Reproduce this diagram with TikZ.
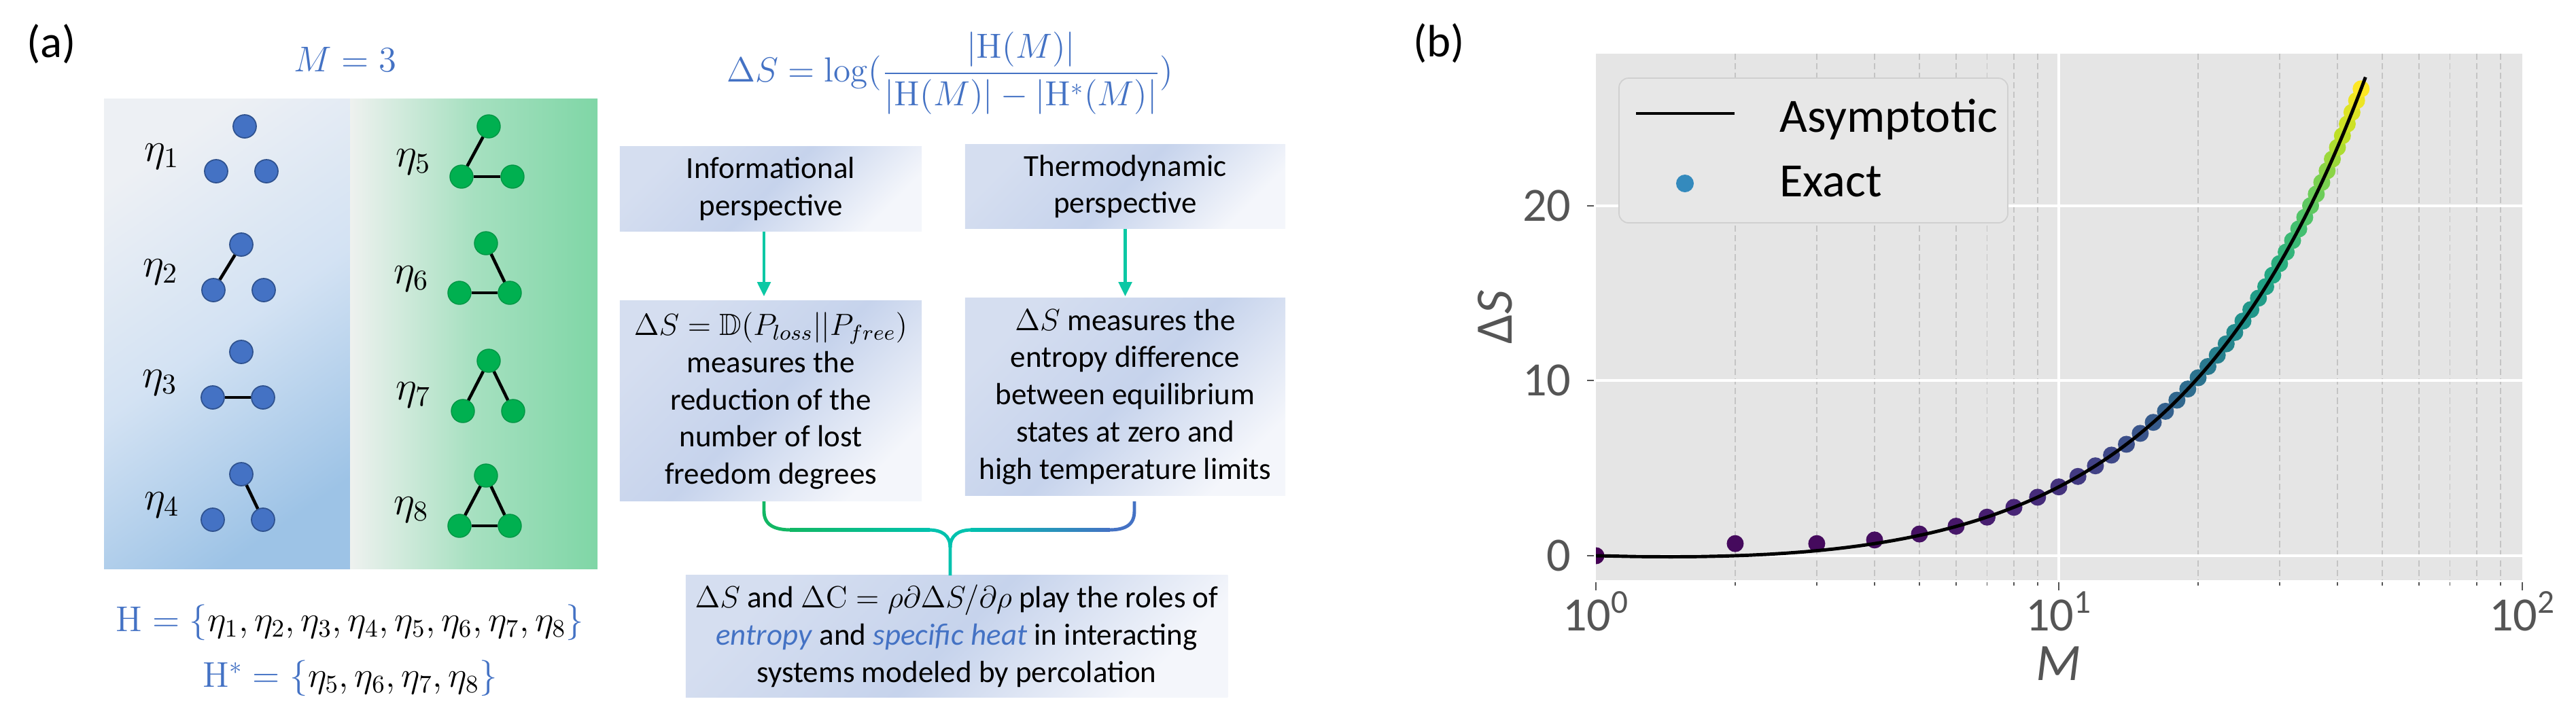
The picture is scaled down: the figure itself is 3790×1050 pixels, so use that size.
\RequirePackage{fix-cm}
\documentclass[tikz,border=0pt]{standalone}
\usepackage{amsmath,amssymb}
\usepackage[no-math]{fontspec}
\setmainfont{Carlito}
\usetikzlibrary{arrows.meta}
\definecolor{mblue}{HTML}{4472C4}
\definecolor{dblue}{HTML}{2F528F}
\definecolor{mgreen}{HTML}{00B050}
\definecolor{arrowc}{HTML}{0CC8A4}
\definecolor{axbg}{HTML}{E5E5E5}
\definecolor{tickc}{HTML}{555555}
\definecolor{gridd}{HTML}{C4C4C4}
\definecolor{legfill}{HTML}{E7E7E7}
\definecolor{legdraw}{HTML}{D0D0D0}
\definecolor{exactc}{HTML}{348ABD}
\definecolor{lpTop}{HTML}{EDF0F4}
\definecolor{lpMid}{HTML}{D3E2F3}
\definecolor{lpBot}{HTML}{9DC3E6}
\definecolor{rpL}{HTML}{EEF1EF}
\definecolor{rpM}{HTML}{A6E0C0}
\definecolor{rpR}{HTML}{7FD6A6}
\definecolor{boxA}{HTML}{D5DEF0}
\definecolor{boxM}{HTML}{C6D3EC}
\definecolor{boxB}{HTML}{F4F6FB}
\definecolor{bL}{HTML}{12B764}
\definecolor{bM}{HTML}{00C2AE}
\definecolor{bR}{HTML}{4472C4}
\definecolor{vir0}{HTML}{440154}
\definecolor{vir1}{HTML}{482475}
\definecolor{vir2}{HTML}{414487}
\definecolor{vir3}{HTML}{355F8D}
\definecolor{vir4}{HTML}{2A788E}
\definecolor{vir5}{HTML}{21918C}
\definecolor{vir6}{HTML}{22A884}
\definecolor{vir7}{HTML}{44BF70}
\definecolor{vir8}{HTML}{7AD151}
\definecolor{vir9}{HTML}{BDDF26}
\definecolor{vir10}{HTML}{FDE725}
\newcommand\boxfont{\fontsize{12.8}{15.6}\selectfont}
\newcommand\mathfnt{\fontsize{15}{18}\selectfont}
\newcommand\formfnt{\fontsize{14.6}{18}\selectfont}
\newcommand\etafnt{\fontsize{17}{20}\selectfont}
\newcommand\tickfont{\fontsize{20}{24}\selectfont}
\newcommand\labfont{\fontsize{22}{26}\selectfont}
\newcommand\panelfont{\fontsize{19}{22}\selectfont}
\newcommand\plotdot[2]{%
  \pgfmathsetmacro\vt{min(#2/26.69,1)*10}%
  \pgfmathtruncatemacro\vk{min(floor(\vt),9)}%
  \pgfmathtruncatemacro\vkn{\vk+1}%
  \pgfmathsetmacro\vp{100-(\vt-\vk)*100}%
  \colorlet{dc}{vir\vk!\vp!vir\vkn}%
  \fill[dc] ({2348+681*log10(#1)},{818-25.75*#2}) circle[radius=0.125cm];%
}
\begin{document}
\begin{tikzpicture}[x=0.01cm,y=-0.01cm,
  bdot/.style={circle,inner sep=0pt,minimum size=0.34cm,fill=mblue,draw=dblue,line width=0.5pt},
  gdot/.style={circle,inner sep=0pt,minimum size=0.34cm,fill=mgreen,draw=mgreen!85!black,line width=0.4pt},
  edge/.style={line width=1.3pt,black},
  eta/.style={font=\etafnt},
  pbox/.style={shading=axis,top color=boxA,bottom color=boxB,middle color=boxM,shading angle=45,
     inner sep=0pt,align=center,font=\boxfont,text=black},
  arr/.style={draw=arrowc,line width=1.2pt,-{Triangle[length=6pt,width=5.5pt]}},
  bw/.style={line width=1.4pt},
  mgrid/.style={gridd,line width=0.45pt,dash pattern=on 2.6pt off 1.4pt},
  wgrid/.style={white,line width=0.9pt},
  tk/.style={tickc,line width=0.5pt}]
\useasboundingbox (0,0) rectangle (3790,1050);

% ---------------- panel (a) ----------------
\node[font=\panelfont] (pa) at (76,65) {(a)};
\node[font=\mathfnt,text=mblue] (m3) at (508,87) {$M=3$};

\shade[top color=lpTop,bottom color=lpBot,middle color=lpMid,shading angle=35] (153,145) rectangle (515,837);
\shade[left color=rpL,right color=rpR,middle color=rpM] (515,145) rectangle (879,837);

% blue graphs
\node[eta] (l1) at (238,230) {$\eta_1$};
\node[bdot] (a1) at (360,186) {}; \node[bdot] (b1) at (318,252) {}; \node[bdot] (c1) at (392,252) {};
\node[eta] (l2) at (236,400) {$\eta_2$};
\node[bdot] (a2) at (355,360) {}; \node[bdot] (b2) at (314,427) {}; \node[bdot] (c2) at (388,427) {};
\draw[edge] (a2) -- (b2);
\node[eta] (l3) at (235,563) {$\eta_3$};
\node[bdot] (a3) at (355,518) {}; \node[bdot] (b3) at (313,585) {}; \node[bdot] (c3) at (387,585) {};
\draw[edge] (b3) -- (c3);
\node[eta] (l4) at (238,743) {$\eta_4$};
\node[bdot] (a4) at (355,698) {}; \node[bdot] (b4) at (313,765) {}; \node[bdot] (c4) at (387,765) {};
\draw[edge] (a4) -- (c4);
% green graphs
\node[eta] (l5) at (608,238) {$\eta_5$};
\node[gdot] (a5) at (719,186) {}; \node[gdot] (b5) at (679,260) {}; \node[gdot] (c5) at (754,260) {};
\draw[edge] (a5) -- (b5); \draw[edge] (b5) -- (c5);
\node[eta] (l6) at (605,410) {$\eta_6$};
\node[gdot] (a6) at (715,358) {}; \node[gdot] (b6) at (676,431) {}; \node[gdot] (c6) at (750,431) {};
\draw[edge] (a6) -- (c6); \draw[edge] (b6) -- (c6);
\node[eta] (l7) at (608,581) {$\eta_7$};
\node[gdot] (a7) at (719,531) {}; \node[gdot] (b7) at (681,605) {}; \node[gdot] (c7) at (755,605) {};
\draw[edge] (a7) -- (b7); \draw[edge] (a7) -- (c7);
\node[eta] (l8) at (605,750) {$\eta_8$};
\node[gdot] (a8) at (715,700) {}; \node[gdot] (b8) at (676,774) {}; \node[gdot] (c8) at (750,774) {};
\draw[edge] (a8) -- (b8); \draw[edge] (a8) -- (c8); \draw[edge] (b8) -- (c8);

\node[font=\mathfnt] (hset) at (515,916) {$\color{mblue}\mathrm{H}=\{\color{black}\eta_1,\eta_2,\eta_3,\eta_4,\eta_5,\eta_6,\eta_7,\eta_8\color{mblue}\}$};
\node[font=\mathfnt] (hstar) at (515,998) {$\color{mblue}\mathrm{H}^{*}=\{\color{black}\eta_5,\eta_6,\eta_7,\eta_8\color{mblue}\}$};

% ---------------- middle flow ----------------
\node[font=\formfnt,text=mblue] (form) at (1398,108)
  {$\Delta S=\log(\dfrac{|\mathrm{H}(M)|}{|\mathrm{H}(M)|-|\mathrm{H}^{*}(M)|})$};

\node[pbox,minimum width=4.44cm,minimum height=1.24cm] (info) at (1134,278) {Informational\\perspective};
\node[pbox,minimum width=4.71cm,minimum height=1.23cm] (thermo) at (1655.5,274.5) {Thermodynamic\\perspective};
\node[pbox,minimum width=4.44cm,minimum height=2.94cm] (lowL) at (1134,590)
  {$\Delta S=\mathbb{D}(P_{loss}||P_{free})$\\measures the\\reduction of the\\number of lost\\freedom degrees};
\node[pbox,minimum width=4.71cm,minimum height=2.90cm] (lowR) at (1655.5,584)
  {$\Delta S$ measures the\\entropy difference\\between equilibrium\\states at zero and\\high temperature limits};
\node[pbox,minimum width=7.97cm,minimum height=1.79cm] (bot) at (1407.5,936.5)
  {$\Delta S$ and $\Delta\mathrm{C}=\rho\partial\Delta S/\partial\rho$ play the roles of\\
   \textcolor{mblue}{\textit{entropy}} and \textcolor{mblue}{\textit{specific heat}} in interacting\\
   systems modeled by percolation};

\draw[arr] ([xshift=-0.1cm]info.south) -- ([xshift=-0.1cm,yshift=0.06cm]lowL.north);
\draw[arr] (thermo.south) -- ([yshift=0.02cm]lowR.north);

% brace
\coordinate (bl) at (1124,738);
\coordinate (br) at (1669,738);
\coordinate (bs) at (1398,847);
\draw[bL,bw] (bl) -- (1124,752) .. controls (1124,772) and (1138,780) .. (1164,780);
\shade[left color=bL,right color=bM] (1162,777.5) rectangle (1368,782.5);
\draw[bM,bw] (1366,780) .. controls (1386,780) and (1398,788) .. (1398,806) -- (bs);
\draw[bM,bw] (1430,780) .. controls (1410,780) and (1398,788) .. (1398,806);
\shade[left color=bM,right color=bR] (1428,777.5) rectangle (1633,782.5);
\draw[bR,bw] (1631,780) .. controls (1657,780) and (1669,772) .. (1669,752) -- (br);

% ---------------- panel (b) ----------------
\node[font=\panelfont] (pb) at (2117,64) {(b)};
\fill[axbg] (2348,79) rectangle (3711,854);
\foreach \m in {2,...,9,20,30,40,50,60,70,80,90}{
  \draw[mgrid] ({2348+681*log10(\m)},79) -- ({2348+681*log10(\m)},854);
  \draw[tk] ({2348+681*log10(\m)},857) -- ({2348+681*log10(\m)},862);
}
\foreach \yy in {303,560,818}{
  \draw[wgrid] (2348,\yy) -- (3711,\yy);
  \draw[tk] (2335,\yy) -- (2345,\yy);
}
\draw[wgrid,line width=1.1pt] (3029,79) -- (3029,854);
\foreach \xx in {2348,3029,3711}{ \draw[tk,line width=0.8pt] (\xx,857) -- (\xx,869); }

\node[anchor=east,font=\tickfont,text=tickc] (t0) at (2324,818) {0};
\node[anchor=east,font=\tickfont,text=tickc] (t10) at (2324,560) {10};
\node[anchor=east,font=\tickfont,text=tickc] (t20) at (2324,303) {20};
\node[anchor=base,font=\tickfont,text=tickc] (x0) at (2348,928) {10\textsuperscript{0}};
\node[anchor=base,font=\tickfont,text=tickc] (x1) at (3029,928) {10\textsuperscript{1}};
\node[anchor=base,font=\tickfont,text=tickc] (x2) at (3711,928) {10\textsuperscript{2}};
\node[anchor=base,font=\labfont,text=tickc] (xl) at (3029,1001) {\textit{M}};
\node[rotate=90,font=\labfont,text=tickc] (yl) at (2200,467) {Δ\textit{S}};

\begin{scope}
\clip (2348,79) rectangle (3711,854);
\foreach \m/\v in {1/0,2/0.6931,3/0.6931,4/0.9008,5/1.2412,6/1.6871,7/2.2063,8/2.7664,9/3.3451}{\plotdot{\m}{\v}}
\foreach \m in {10,...,45}{\pgfmathsetmacro\vv{(\m-1)*ln(2)-ln(\m)}\plotdot{\m}{\vv}}
\draw[black,line width=1.4pt,line join=round] plot[domain=1:46,samples=200,variable=\t]
  ({2348+681*log10(\t)},{818-25.75*((\t-1)*ln(2)-ln(\t))});
\end{scope}

% legend
\draw[fill=legfill,draw=legdraw,line width=0.5pt,rounded corners=0.14cm] (2382,115) rectangle (2954,328);
\coordinate (lg1) at (2407,167);
\coordinate (lg2) at (2552,167);
\draw[black,line width=1.4pt] (lg1) -- (lg2);
\fill[exactc] (2479,270) circle[radius=0.13cm];
\node[anchor=base west,font=\tickfont] (la) at (2606,194) {Asymptotic};
\node[anchor=base west,font=\tickfont] (le) at (2606,289) {Exact};
\end{tikzpicture}
\end{document}
